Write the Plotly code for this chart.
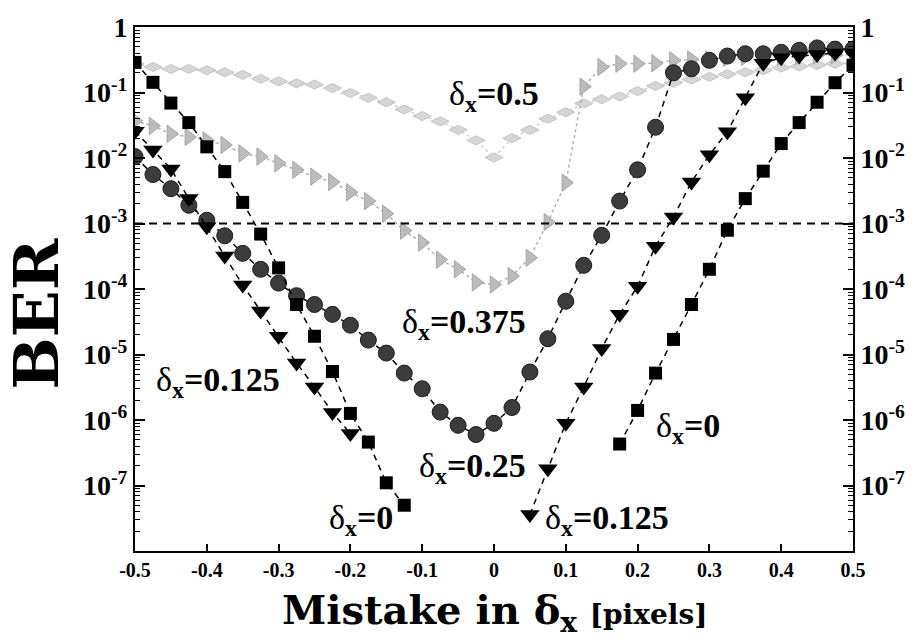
import plotly.graph_objects as go

# ---------------- data ----------------
x_grid = [round(-0.5 + 0.025 * i, 3) for i in range(41)]

# delta_x = 0  (black squares), two branches
sq_left_x = [-0.5, -0.475, -0.45, -0.425, -0.4, -0.375, -0.35, -0.325, -0.3, -0.275,
             -0.25, -0.225, -0.2, -0.175, -0.15, -0.125]
sq_left_ber = [0.288, 0.143, 0.069, 0.0347, 0.0148, 6.2e-3, 2.1e-3, 6.9e-4, 2.1e-4, 5.8e-5,
               1.9e-5, 5.5e-6, 1.26e-6, 4.6e-7, 1.1e-7, 5.0e-8]
sq_right_x = [0.175, 0.2, 0.225, 0.25, 0.275, 0.3, 0.325, 0.35, 0.375, 0.4, 0.425, 0.45, 0.475, 0.5]
sq_right_ber = [4.3e-7, 1.4e-6, 5.2e-6, 1.7e-5, 5.8e-5, 2.0e-4, 7.9e-4, 2.4e-3, 6.3e-3, 0.0166,
                0.0347, 0.071, 0.141, 0.26]

# delta_x = 0.125 (black down-triangles), two branches
tri_left_x = [-0.5, -0.475, -0.45, -0.425, -0.4, -0.375, -0.35, -0.325, -0.3, -0.275, -0.25, -0.225, -0.2]
tri_left_ber = [0.0257, 0.0132, 6.8e-3, 2.4e-3, 8.9e-4, 3.2e-4, 1.15e-4, 4.6e-5, 1.9e-5, 7.4e-6,
                3.2e-6, 1.3e-6, 6.2e-7]
tri_right_x = [0.05, 0.075, 0.1, 0.125, 0.15, 0.175, 0.2, 0.225, 0.25, 0.275, 0.3, 0.325, 0.35,
               0.375, 0.4, 0.425, 0.45, 0.475, 0.5]
tri_right_ber = [3.6e-8, 1.8e-7, 8.9e-7, 3.2e-6, 1.23e-5, 4.1e-5, 1.1e-4, 4.5e-4, 1.26e-3, 4.3e-3,
                 0.0112, 0.0251, 0.083, 0.28, 0.34, 0.36, 0.38, 0.40, 0.40]

# delta_x = 0.25 (dark grey circles)
circ_ber = [1.05e-2, 5.6e-3, 3.4e-3, 1.9e-3, 1.12e-3, 6.5e-4, 3.5e-4, 2.0e-4, 1.23e-4, 7.9e-5,
            5.8e-5, 4.1e-5, 2.8e-5, 1.66e-5, 1.05e-5, 5.2e-6, 3.0e-6, 1.32e-6, 8.3e-7, 6.0e-7,
            8.9e-7, 1.55e-6, 5.4e-6, 1.74e-5, 6.5e-5, 2.3e-4, 6.6e-4, 2.2e-3, 6.6e-3, 0.0295,
            0.20, 0.23, 0.31, 0.36, 0.39, 0.39, 0.41, 0.44, 0.48, 0.46, 0.46]

# delta_x = 0.375 (light grey right-triangles)
g375_ber = [0.0372, 0.0309, 0.0234, 0.0209, 0.0186, 0.0158, 0.0117, 0.0105, 8.3e-3, 6.6e-3,
            5.2e-3, 4.3e-3, 3.0e-3, 2.2e-3, 1.41e-3, 7.8e-4, 5.1e-4, 2.8e-4, 2.0e-4, 1.26e-4,
            1.17e-4, 1.58e-4, 3.0e-4, 1.05e-3, 4.2e-3, 0.123, 0.245, 0.275, 0.275, 0.28,
            0.31, 0.32, 0.32, 0.34, 0.35, 0.355, 0.355, 0.36, 0.37, 0.37, 0.38]

# delta_x = 0.5 (very light grey)
g500_ber = [0.275, 0.245, 0.229, 0.229, 0.219, 0.204, 0.186, 0.162, 0.148, 0.138,
            0.132, 0.117, 0.098, 0.083, 0.071, 0.055, 0.0437, 0.0363, 0.0269, 0.0186,
            0.0102, 0.020, 0.0269, 0.0398, 0.050, 0.068, 0.079, 0.087, 0.105, 0.126,
            0.141, 0.158, 0.174, 0.19, 0.204, 0.219, 0.24, 0.25, 0.263, 0.275, 0.28]

threshold_ber = 1e-3

x_tickvals = [-0.5, -0.4, -0.3, -0.2, -0.1, 0, 0.1, 0.2, 0.3, 0.4, 0.5]
x_ticktext = ["-0.5", "-0.4", "-0.3", "-0.2", "-0.1", "0", "0.1", "0.2", "0.3", "0.4", "0.5"]
y_tickvals = [1, 1e-1, 1e-2, 1e-3, 1e-4, 1e-5, 1e-6, 1e-7]
y_ticktext = ["1", "10<sup>-1</sup>", "10<sup>-2</sup>", "10<sup>-3</sup>", "10<sup>-4</sup>",
              "10<sup>-5</sup>", "10<sup>-6</sup>", "10<sup>-7</sup>"]
y_minor = [m * 10.0 ** e for e in range(-8, 0) for m in range(2, 10)]

# curve labels: (text, x, log10(BER))
labels = [
    ("0.5", 0.0, -1.06),
    ("0.375", -0.042, -4.53),
    ("0.125", -0.385, -5.42),
    ("0.25", -0.03, -6.73),
    ("0", -0.185, -7.52),
    ("0.125", 0.157, -7.52),
    ("0", 0.27, -6.12),
]

# ---------------- figure ----------------
fig = go.Figure()
dash_blk = "6px,5px"

fig.add_trace(go.Scatter(
    x=x_grid, y=g500_ber, mode="lines+markers",
    line=dict(color="#d2d2d2", width=1.5, dash="dot"),
    marker=dict(symbol="diamond-wide", size=13, color="#d6d6d6", line=dict(color="#c4c4c4", width=1)),
    showlegend=False))
fig.add_trace(go.Scatter(
    x=x_grid, y=g375_ber, mode="lines+markers",
    line=dict(color="#b0b0b0", width=1.5, dash="dot"),
    marker=dict(symbol="triangle-right", size=15, color="#bcbcbc", line=dict(color="#a4a4a4", width=1)),
    showlegend=False))
fig.add_trace(go.Scatter(
    x=x_grid, y=circ_ber, mode="lines+markers",
    line=dict(color="black", width=1.5, dash=dash_blk),
    marker=dict(symbol="circle", size=16, color="#3c3c3c", line=dict(color="#1a1a1a", width=1)),
    showlegend=False))
fig.add_trace(go.Scatter(
    x=tri_left_x + [None] + tri_right_x, y=tri_left_ber + [None] + tri_right_ber,
    mode="lines+markers", connectgaps=False,
    line=dict(color="black", width=1.5, dash=dash_blk),
    marker=dict(symbol="triangle-down", size=17, color="black"),
    showlegend=False))
fig.add_trace(go.Scatter(
    x=sq_left_x + [None] + sq_right_x, y=sq_left_ber + [None] + sq_right_ber,
    mode="lines+markers", connectgaps=False,
    line=dict(color="black", width=1.5, dash=dash_blk),
    marker=dict(symbol="square", size=13, color="black"),
    showlegend=False))
fig.add_trace(go.Scatter(
    x=[-0.5, 0.5], y=[threshold_ber, threshold_ber], mode="lines",
    line=dict(color="black", width=2, dash="8px,6px"),
    yaxis="y2", showlegend=False, hoverinfo="skip"))

for txt, lx, ly in labels:
    fig.add_annotation(
        x=lx, y=ly, xref="x", yref="y", showarrow=False,
        text="δ<sub><b>x</b></sub><b>=" + txt + "</b>",
        font=dict(family="Liberation Serif", size=34, color="black"),
        xanchor="center", yanchor="middle")

fig.add_annotation(
    x=-0.1366, y=0.4525, xref="paper", yref="paper", showarrow=False, textangle=-90,
    text="<b>BER</b>", font=dict(family="DejaVu Serif", size=62, color="black"),
    xanchor="center", yanchor="middle")
fig.add_annotation(
    x=0.5, y=-0.118, xref="paper", yref="paper", showarrow=False,
    text="<b>Mistake in δ<sub>x</sub></b> <b><span style='font-size:28px'>[pixels]</span></b>",
    font=dict(family="DejaVu Serif", size=40, color="black"),
    xanchor="center", yanchor="middle")

tick_font_y = dict(family="Liberation Serif", size=28, color="black", weight="bold")
yaxis_common = dict(
    type="log", range=[-8, 0], tickmode="array", tickvals=y_tickvals, ticktext=y_ticktext,
    ticks="inside", ticklen=10, tickwidth=1.5, tickcolor="black",
    minor=dict(tickmode="array", tickvals=y_minor, ticks="inside", ticklen=5, tickwidth=1,
               tickcolor="black", showgrid=False),
    showline=True, linewidth=2, linecolor="black", showgrid=False, zeroline=False,
    tickfont=tick_font_y, ticklabeloverflow="allow")

fig.update_layout(
    width=917, height=644,
    margin=dict(l=135, r=57, t=14, b=93),
    paper_bgcolor="white", plot_bgcolor="white",
    xaxis=dict(range=[-0.5, 0.5], tickmode="array", tickvals=x_tickvals, ticktext=x_ticktext,
               ticks="inside", ticklen=7, tickwidth=1.5, tickcolor="black",
               showline=True, linewidth=2, linecolor="black", mirror=True,
               showgrid=False, zeroline=False,
               tickfont=dict(family="Liberation Serif", size=20, color="black", weight="bold")),
    yaxis=yaxis_common,
    yaxis2=dict(overlaying="y", side="right", **yaxis_common),
)

fig.write_html("out.html")
